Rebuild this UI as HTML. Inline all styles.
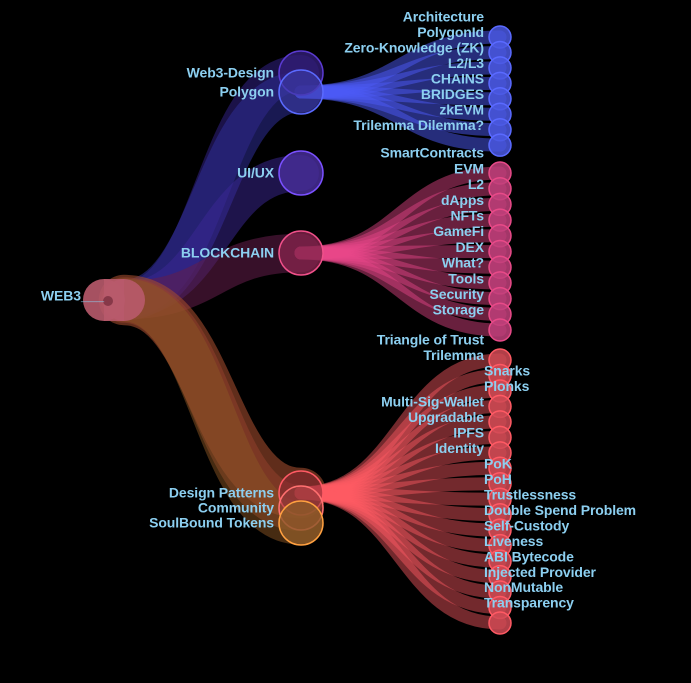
<!DOCTYPE html>
<html><head><meta charset="utf-8"><style>
html,body{margin:0;padding:0;background:#000;}
svg{display:block;}
text{font-family:"Liberation Sans",sans-serif;font-size:14px;font-weight:bold;fill:#8ccff0;letter-spacing:-0.1px;}
</style></head><body>
<svg id="chart" width="691" height="683" viewBox="0 0 691 683"></svg>
<script>
// ---- data ----
const rootName = "WEB3___";
const level1Names = ["Web3-Design","Polygon","UI/UX","BLOCKCHAIN","Design Patterns","Community","SoulBound Tokens"];
const level1Values = [30, 34, 30, 32, 42, 38, 36];
const polygonChildren = ["Architecture","PolygonId","Zero-Knowledge (ZK)","L2/L3","CHAINS","BRIDGES","zkEVM","Trilemma Dilemma?"];
const blockchainChildren = ["SmartContracts","EVM","L2","dApps","NFTs","GameFi","DEX","What?","Tools","Security","Storage"];
const patternChildren = ["Triangle of Trust","Trilemma","Snarks","Plonks","Multi-Sig-Wallet","Upgradable","IPFS","Identity","PoK","PoH","Trustlessness","Double Spend Problem","Self-Custody","Liveness","ABI Bytecode","Injected Provider","NonMutable","Transparency"];
const patternLeftAligned = [false,false,true,true,false,false,false,false,true,true,true,true,true,true,true,true,true,true];
const leafValue = 13;

// ---- layout ----
const NS="http://www.w3.org/2000/svg";
const svg=document.getElementById('chart');
const X0=104, X1=301, X2=500;
const root={x:X0,y:300};
const l1Y=[73,92,173,253,493,508,523];
const l1Stroke=["#5a3ad0","#5a6aff","#7a50ff","#f0508a","#ff5a64","#ff7070","#ffa040"];
const l1Fill=["rgba(50,30,120,0.8)","rgba(60,60,170,0.6)","rgba(70,45,150,0.85)","rgba(130,35,75,0.8)","rgba(140,40,50,0.6)","rgba(150,60,60,0.5)","rgba(140,90,40,0.8)"];
const rootLinkColor=["rgba(45,30,120,0.6)","rgba(45,45,150,0.55)","rgba(60,40,150,0.5)","rgba(100,30,75,0.55)","rgba(160,75,45,0.6)","rgba(150,65,45,0.5)","rgba(140,85,35,0.5)"];
function el(tag,attrs,parent){const e=document.createElementNS(NS,tag);for(const k in attrs)e.setAttribute(k,attrs[k]);(parent||svg).appendChild(e);return e;}
function curve(x1,y1,x2,y2){const mx=(x1+x2)/2;return `M${x1},${y1} C${mx},${y1} ${mx},${y2} ${x2},${y2}`;}
const gLinks=el('g',{});


const gNodes=el('g',{});


const gText=el('g',{});



// root links
level1Names.forEach((n,i)=>{
  const p=el('path',{d:curve(X0+20,root.y,X1,l1Y[i]),fill:'none',stroke:rootLinkColor[i],'stroke-width':level1Values[i]*1.2,'stroke-linecap':'round'},gLinks);
  
  
});

// leaf groups
const groups=[
  {children:polygonChildren,parent:1,start:37,step:15.45,color:"rgba(75,90,245,0.5)",fill:"#4a58e0",stroke:"#5a6aff",left:null},
  {children:blockchainChildren,parent:3,start:173,step:15.7,color:"rgba(232,72,138,0.45)",fill:"#c0407a",stroke:"#e84a88",left:null},
  {children:patternChildren,parent:4,start:360,step:15.47,color:"rgba(255,90,100,0.45)",fill:"#d04a55",stroke:"#ff5a64",left:patternLeftAligned}
];
groups.forEach(g=>{
  const py=l1Y[g.parent];
  g.children.forEach((c,i)=>{
    const cy=g.start+i*g.step;
    const p=el('path',{d:curve(X1,py,X2,cy),fill:'none',stroke:g.color,'stroke-width':leafValue,'stroke-linecap':'round'},gLinks);
    
    
    const ci=el('circle',{cx:X2,cy:cy,r:11,fill:g.fill,'fill-opacity':0.85,stroke:g.stroke,'stroke-width':1.5},gNodes);
    
    
    const la=g.left&&g.left[i];
    const t=el('text',{x:484,y:cy-19,'text-anchor':la?'start':'end','dominant-baseline':'middle'},gText);
    t.textContent=c;
    
    
  });
});

// level1 nodes
level1Names.forEach((n,i)=>{
  const c=el('circle',{cx:X1,cy:l1Y[i],r:22,fill:l1Fill[i],stroke:l1Stroke[i],'stroke-width':1.5},gNodes);
  
  
  const t=el('text',{x:274,y:l1Y[i]+1,'text-anchor':'end','dominant-baseline':'middle'},gText);
  t.textContent=n;
  
  
});

// root node
const rb=el('circle',{cx:X0+20,cy:root.y,r:21,fill:'#b85a6c','fill-opacity':0.9},gNodes);


const rb2=el('rect',{x:X0,y:root.y-21,width:20,height:42,fill:'#b85a6c','fill-opacity':0.9},gNodes);


const rb3=el('circle',{cx:X0,cy:root.y,r:21,fill:'#b85a6c','fill-opacity':0.9},gNodes);


const rc=el('circle',{cx:X0+4,cy:root.y+1,r:5,fill:'#7a3040','fill-opacity':0.8},gNodes);


const rt=el('text',{x:X0,y:root.y-3,'text-anchor':'end','dominant-baseline':'middle'},gText);
rt.textContent=rootName;


</script>
</body></html>
